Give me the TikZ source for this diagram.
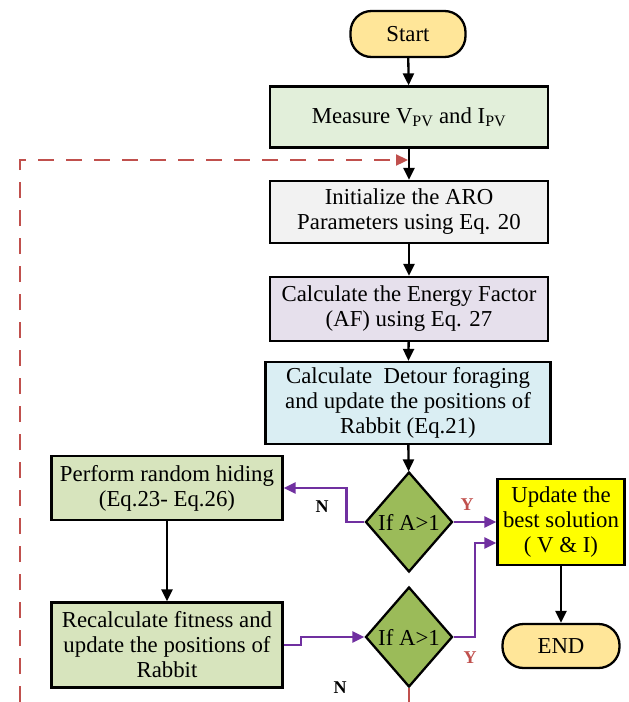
\documentclass[tikz,border=0pt]{standalone}
\usepackage{fontspec}
\setmainfont{Liberation Serif}
\usetikzlibrary{arrows.meta, positioning, shapes.geometric}
\definecolor{cstart}{HTML}{FFE699}
\definecolor{cmeas}{HTML}{E2EFDA}
\definecolor{cinit}{HTML}{F2F2F2}
\definecolor{cenergy}{HTML}{E6E0EC}
\definecolor{cdetour}{HTML}{DAEEF3}
\definecolor{cdecide}{HTML}{9BBB59}
\definecolor{chide}{HTML}{D7E4BD}
\definecolor{cupdate}{HTML}{FFFF00}
\definecolor{cpurple}{HTML}{7030A0}
\definecolor{cred}{HTML}{C0504D}
\tikzset{
  every picture/.style={line width=2.3pt, font=\fontsize{22.8}{25}\selectfont},
  box/.style={draw, fill=#1, align=center, inner sep=2pt},
  box/.default=cinit,
  term/.style={draw, fill=cstart, rounded corners=21pt, align=center},
  decide/.style={draw, diamond, fill=cdecide, inner sep=0pt, aspect=0.87, minimum width=87pt, minimum height=100pt},
  arrow/.style={-{Triangle[length=12pt, width=11pt]}, draw=black},
  parrow/.style={-{Triangle[length=12pt, width=11pt]}, draw=cpurple},
  loop/.style={-{Triangle[length=12pt, width=11pt]}, draw=cred, dash pattern=on 16pt off 12pt},
  lab/.style={font=\fontsize{18}{20}\selectfont\bfseries},
}
\begin{document}
\begin{tikzpicture}[x=1pt, y=-1pt]
  \useasboundingbox (0,0) rectangle (629,702);
  % main column
  \node[term, minimum width=115pt, minimum height=46pt] (start) at (408,34) {Start};
  \node[box=cmeas, minimum width=278pt, minimum height=61pt] (meas) at (409,117) {Measure V\textsubscript{PV} and I\textsubscript{PV}};
  \node[box=cinit, minimum width=278pt, minimum height=62pt] (init) at (409,212) {Initialize the ARO\\Parameters using Eq. 20};
  \node[box=cenergy, minimum width=278pt, minimum height=64pt] (energy) at (409,309) {Calculate the Energy Factor\\(AF) using Eq. 27};
  \node[box=cdetour, minimum width=285pt, minimum height=82pt] (detour) at (408,403) {Calculate~ Detour foraging\\and update the positions of\\Rabbit (Eq.21)};
  \node[decide] (dec1) at (409,522) {If A>1};
  \node[decide] (dec2) at (409,637) {If A>1};
  % left column
  \node[box=chide, minimum width=231pt, minimum height=64pt] (hide) at (167,488) {Perform random hiding\\(Eq.23- Eq.26)};
  \node[box=chide, minimum width=231pt, minimum height=85pt] (recalc) at (167,645) {Recalculate fitness and\\update the positions of\\Rabbit};
  % right column
  \node[box=cupdate, minimum width=127pt, minimum height=86pt] (upd) at (561,522) {Update the\\best solution\\( V \& I)};
  \node[term, minimum width=117pt, minimum height=44pt] (fin) at (561,646) {END};
  \draw[arrow] (start) -- (meas);
  \draw[arrow] (meas) -- (init);
  \draw[arrow] (init) -- (energy);
  \draw[arrow] (energy) -- (detour);
  \draw[arrow] (detour) -- (dec1);
  \draw[arrow] (hide) -- (recalc);
  \draw[arrow] (upd) -- (fin);
  \draw[parrow] (dec1.west) -- ++(-18,0) |- (hide.east);
  \draw[parrow] (dec1.east) -- (upd.west);
  \draw[parrow] (recalc.east) -- ++(17,0) |- (dec2.west);
  \draw[parrow] (dec2.east) -- ++(21,0) |- ([yshift=-21pt]upd.west);
  \node[lab] (n1) at (322,507) {N};
  \node[lab, text=cred] (y1) at (467,505) {Y};
  \node[lab, text=cred] (y2) at (470,658) {Y};
  \node[lab] (n2) at (340,688) {N};
  % loop back
  \coordinate (bot) at (409,702);
  \coordinate (loopl) at (20,702);
  \coordinate (loopin) at (408,160);
  \draw[draw=cred] (dec2.south) -- (bot);
  \draw[loop] (loopl) |- (loopin);
\end{tikzpicture}
\end{document}
